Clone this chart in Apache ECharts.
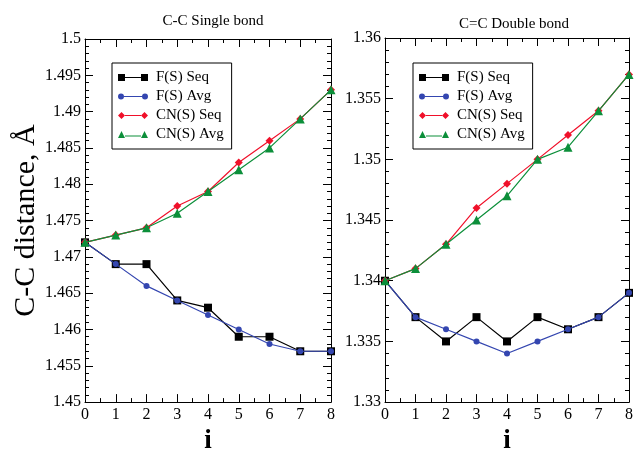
<!DOCTYPE html>
<html><head><meta charset="utf-8">
<script src="https://cdn.jsdelivr.net/npm/echarts@6/dist/echarts.min.js"></script>
<style>html,body{margin:0;padding:0;background:#fff}#c{width:636px;height:460px}</style>
</head><body><div id="c"></div>
<script>
const steps = [0,1,2,3,4,5,6,7,8];
const seriesNames = ['F(S) Seq','F(S) Avg','CN(S) Seq','CN(S) Avg'];
// Single bond panel
const singleFSeq  = [1.472,1.469,1.469,1.464,1.463,1.459,1.459,1.457,1.457];
const singleFAvg  = [1.472,1.469,1.466,1.464,1.462,1.460,1.458,1.457,1.457];
const singleCNSeq = [1.472,1.473,1.474,1.477,1.479,1.483,1.486,1.489,1.493];
const singleCNAvg = [1.472,1.473,1.474,1.476,1.479,1.482,1.485,1.489,1.493];
// Double bond panel
const doubleFSeq  = [1.340,1.337,1.335,1.337,1.335,1.337,1.336,1.337,1.339];
const doubleFAvg  = [1.340,1.337,1.336,1.335,1.334,1.335,1.336,1.337,1.339];
const doubleCNSeq = [1.340,1.341,1.343,1.346,1.348,1.350,1.352,1.354,1.357];
const doubleCNAvg = [1.340,1.341,1.343,1.345,1.347,1.350,1.351,1.354,1.357];

const FONT = 'Liberation Serif';
const colors = ['#000000','#3446b0','#f0102a','#0c8f3a'];
const symbols = ['rect','circle','diamond','triangle'];
const symSizes = [8,6,8,9];
const icons = [
  'path://M0,0h7v7h-7z M7,3h16v1h-16z M23,0h7v7h-7z',
  'path://M0,3.5A3,3 0 1,1 6,3.5A3,3 0 1,1 0,3.5z M6,3h18v1h-18z M24,3.5A3,3 0 1,1 30,3.5A3,3 0 1,1 24,3.5z',
  'path://M0,3.5L3.5,0L7,3.5L3.5,7z M7,3h16v1h-16z M23,3.5L26.5,0L30,3.5L26.5,7z',
  'path://M0,7L3.5,0L7,7z M7,4.5h16v1h-16z M23,7L26.5,0L30,7z'
];

function xAx(grid, top){
  return {type:'value', gridIndex:grid, min:0, max:8, interval:1, position: top?'top':'bottom',
    axisLine:{show:true,onZero:false,lineStyle:{color:'#000',width:1}},
    axisTick:{show:true,inside:true,length:8,lineStyle:{color:'#000'}},
    minorTick:{show:true,splitNumber:2,length:4,lineStyle:{color:'#000'}},
    splitLine:{show:false},
    axisLabel:{show:!top,color:'#000',fontFamily:FONT,fontSize:16,margin:5},
    name: top?'':'i', nameLocation:'middle', nameGap:20,
    nameTextStyle:{fontFamily:FONT,fontSize:27,fontWeight:'bold',color:'#000',verticalAlign:'top'}};
}
function yAx(grid, right, min, max, name){
  return {type:'value', gridIndex:grid, min:min, max:max, interval:0.005, position: right?'right':'left',
    axisLine:{show:true,onZero:false,lineStyle:{color:'#000',width:1}},
    axisTick:{show:true,inside:true,length:8,lineStyle:{color:'#000'}},
    minorTick:{show:true,splitNumber:5,length:4,lineStyle:{color:'#000'}},
    splitLine:{show:false},
    axisLabel:{show:!right,color:'#000',fontFamily:FONT,fontSize:16,margin:4},
    name: name||'', nameLocation:'middle', nameGap:44,
    nameTextStyle:{fontFamily:FONT,fontSize:30,color:'#000'}};
}
function mk(data, i, grid){
  return {name:seriesNames[i], type:'line', xAxisIndex:grid*2, yAxisIndex:grid*2,
    data: steps.map((s,k)=>[s,data[k]]),
    symbol:symbols[i], symbolSize:symSizes[i], showSymbol:true,
    lineStyle:{color:colors[i],width:1.2}, itemStyle:{color:colors[i]},
    animation:false, z:2+i};
}
function legend(left, top){
  return {left:left, top:top, orient:'vertical', itemWidth:30, itemHeight:7, itemGap:4,
    borderColor:'#000', borderWidth:1, padding:[7,8,7,6], backgroundColor:'#fff',
    textStyle:{fontFamily:FONT,fontSize:15,color:'#000',padding:[0,0,0,3]},
    data: seriesNames.map((n,i)=>({name:n, icon:icons[i]}))};
}

const chart = echarts.init(document.getElementById('c'), null, {renderer:'canvas'});
chart.setOption({
  backgroundColor:'#fff',
  animation:false,
  title:[
    {text:'C-C Single bond', left:208, top:9, textAlign:'center', textStyle:{fontFamily:FONT,fontSize:15,fontWeight:'normal',color:'#000'}},
    {text:'C=C Double bond', left:509, top:12, textAlign:'center', textStyle:{fontFamily:FONT,fontSize:15,fontWeight:'normal',color:'#000'}}
  ],
  grid:[
    {left:85, right:305, top:39, bottom:42},
    {left:385, right:5, top:38, bottom:42}
  ],
  xAxis:[xAx(0,false), xAx(0,true), xAx(1,false), xAx(1,true)],
  yAxis:[yAx(0,false,1.45,1.5,'C-C distance, Å'), yAx(0,true,1.45,1.5), yAx(1,false,1.33,1.36), yAx(1,true,1.33,1.36)],
  legend:[legend(112,63), legend(413,63)],
  series:[
    mk(singleFSeq,0,0), mk(singleFAvg,1,0), mk(singleCNSeq,2,0), mk(singleCNAvg,3,0),
    mk(doubleFSeq,0,1), mk(doubleFAvg,1,1), mk(doubleCNSeq,2,1), mk(doubleCNAvg,3,1)
  ]
});
</script></body></html>
